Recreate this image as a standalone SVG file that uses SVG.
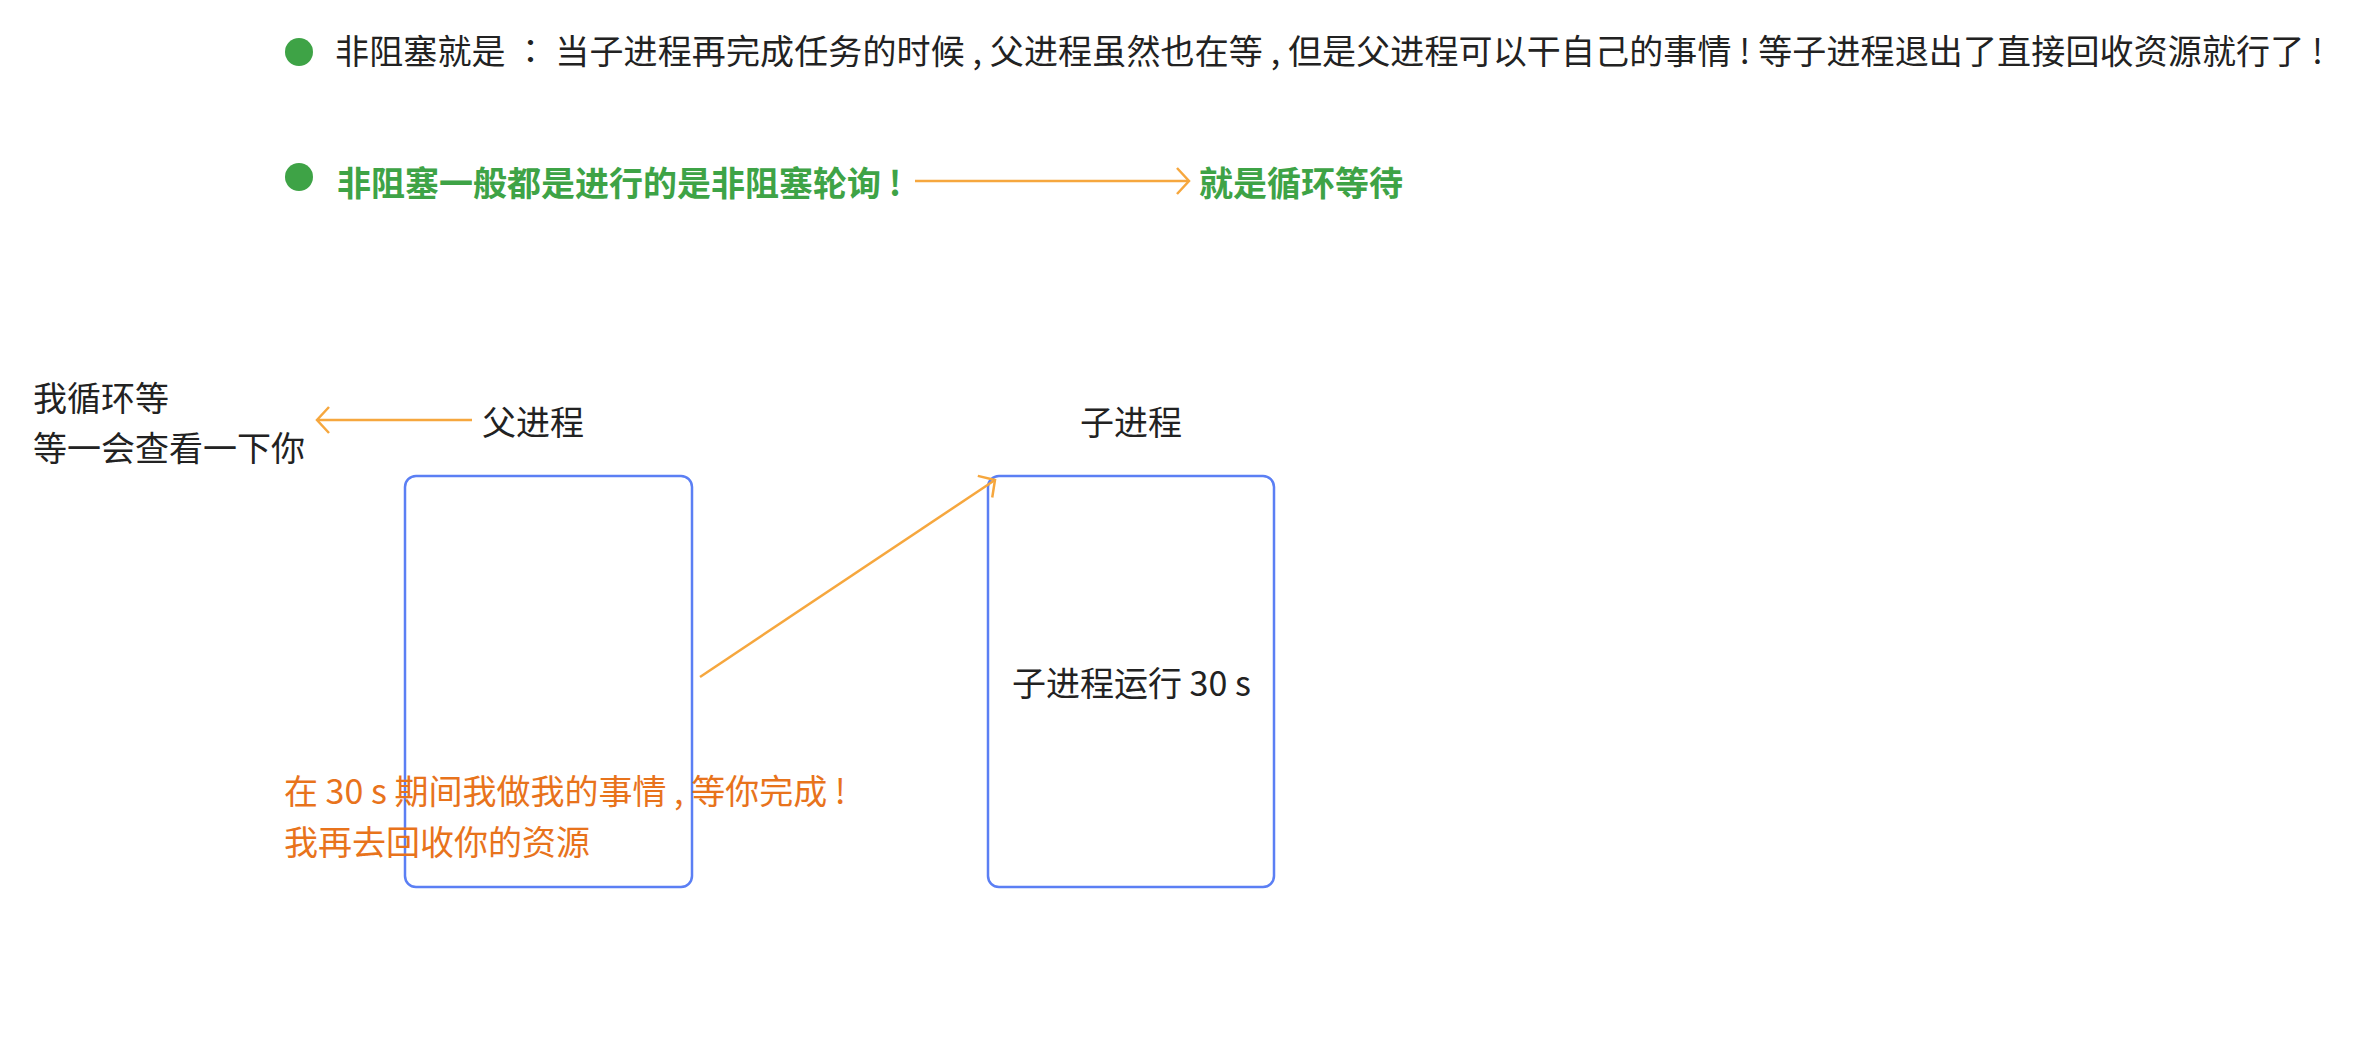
<svg xmlns="http://www.w3.org/2000/svg" width="2379" height="1040" viewBox="0 0 2379 1040">
<style>
  .t { font-family: "Noto Sans CJK SC", "Noto Sans", sans-serif; font-size: 34px; fill: #222222; }
  .g { fill: #3ea346; font-weight: bold; }
  .o { fill: #e8731c; }
  .tc { font-family: "Noto Sans CJK TC", sans-serif; }
  .box { fill: none; stroke: #5b7ff4; stroke-width: 2.5; }
  .arr { fill: none; stroke: #f6a73e; stroke-width: 2.5; }
</style>
<defs>
  <marker id="ah" markerUnits="userSpaceOnUse" markerWidth="30" markerHeight="30" viewBox="-15 -15 30 30" refX="0" refY="0" orient="auto">
    <path d="M-12,-13 L0,0 L-12,13" fill="none" stroke="#f6a73e" stroke-width="2.5"/>
  </marker>
</defs>
<rect width="2379" height="1040" fill="#ffffff"/>
<g id="bullet1">
  <circle cx="299" cy="52" r="14" fill="#3ea346"/>
  <text class="t" x="335" y="64" textLength="1988" lengthAdjust="spacing">非阻塞就是 <tspan class="tc">：</tspan> 当子进程再完成任务的时候 , 父进程虽然也在等 , 但是父进程可以干自己的事情 ! 等子进程退出了直接回收资源就行了 !</text>
</g>
<g id="bullet2">
  <circle cx="299" cy="177" r="14" fill="#3ea346"/>
  <text class="t g" x="337" y="196">非阻塞一般都是进行的是非阻塞轮询 !</text>
</g>
<g id="loop-wait">
  <text class="t g" x="1199" y="196">就是循环等待</text>
</g>
<g id="note-loop">
  <text class="t" x="33" y="411">我循环等</text>
  <text class="t" x="33" y="461">等一会查看一下你</text>
</g>
<g id="parent">
  <text class="t" x="482" y="435">父进程</text>
  <rect class="box" x="405" y="476" width="287" height="411" rx="11"/>
</g>
<g id="child">
  <text class="t" x="1080" y="435">子进程</text>
  <rect class="box" x="988" y="476" width="286" height="411" rx="11"/>
  <text class="t" x="1012" y="696">子进程运行 30 s</text>
</g>
<g id="note-parent">
  <text class="t o" x="284" y="804">在 30 s 期间我做我的事情 , 等你完成 !</text>
  <text class="t o" x="284" y="855">我再去回收你的资源</text>
</g>
<g id="connectors">
  <line class="arr" x1="915" y1="181" x2="1189" y2="181" marker-end="url(#ah)"/>
  <line class="arr" x1="472" y1="420" x2="317" y2="420" marker-end="url(#ah)"/>
  <line class="arr" x1="700" y1="677" x2="995" y2="480" marker-end="url(#ah)"/>
</g>
</svg>
